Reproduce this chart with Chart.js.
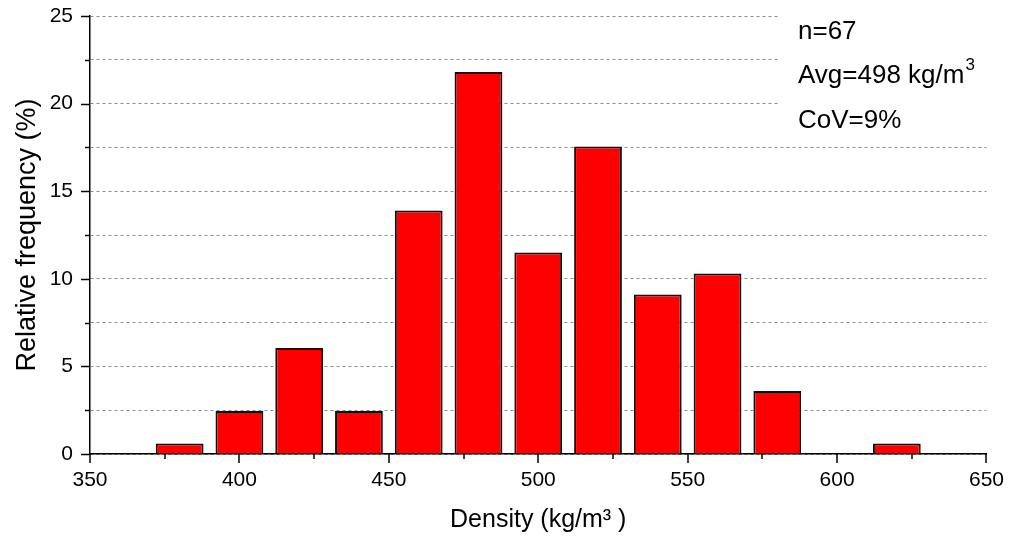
<!DOCTYPE html>
<html>
<head>
<meta charset="utf-8">
<script src="https://cdn.jsdelivr.net/npm/chart.js@4/dist/chart.umd.min.js"></script>
<style>
  body { margin: 0; background: #fff; }
  #wrap { width: 1010px; height: 537px; }
</style>
</head>
<body>
<div id="wrap"><canvas id="hist"></canvas></div>
<script>
// bin centres (kg/m3) and relative frequency (%)
const binCentres = [380, 400, 420, 440, 460, 480, 500, 520, 540, 560, 580, 600, 620];
const relFreq = [0.6, 2.45, 6.05, 2.45, 13.9, 21.8, 11.5, 17.55, 9.1, 10.3, 3.6, 0, 0.6];
const statLines = ['n=67', 'Avg=498 kg/m', 'CoV=9%'];

const FONT = '"Liberation Sans", Arial, sans-serif';

// outward ticks (major + minor) and the stats box
const extras = {
  id: 'extras',
  afterDatasetsDraw(chart) {
    const c = chart.ctx;
    const x = chart.scales.x, y = chart.scales.y;
    c.save();
    c.strokeStyle = '#000';
    c.lineWidth = 1.5;
    c.beginPath();
    y.ticks.forEach(t => {
      const py = Math.round(y.getPixelForValue(t.value)) + 0.5;
      const len = t.value % 5 === 0 ? 9 : 5;
      c.moveTo(y.right - len, py);
      c.lineTo(y.right, py);
    });
    x.ticks.forEach(t => {
      const px = Math.round(x.getPixelForValue(t.value));
      const len = t.value % 50 === 0 ? 9 : 5;
      c.moveTo(px, x.top);
      c.lineTo(px, x.top + len);
    });
    c.stroke();

    // stats text box
    c.fillStyle = '#fff';
    c.fillRect(780, 8, 210, 132);
    c.fillStyle = '#000';
    c.font = '26px ' + FONT;
    c.textBaseline = 'middle';
    c.textAlign = 'left';
    const ys = [32, 76, 121];
    statLines.forEach((s, i) => c.fillText(s, 798, ys[i]));
    const w = c.measureText(statLines[1]).width;
    c.font = '17px ' + FONT;
    c.fillText('3', 798 + w + 1, ys[1] - 11);
    c.restore();
  }
};

new Chart(document.getElementById('hist'), {
  type: 'bar',
  data: {
    datasets: [{
      data: binCentres.map((v, i) => ({ x: v, y: relFreq[i] })),
      backgroundColor: '#ff0000',
      borderColor: '#111',
      borderWidth: 2,
      barPercentage: 0.8,
      categoryPercentage: 1.0
    }]
  },
  options: {
    responsive: true,
    maintainAspectRatio: false,
    animation: false,
    layout: { padding: { top: 16, right: 23, left: 0, bottom: 0 } },
    plugins: { legend: { display: false }, tooltip: { enabled: false } },
    scales: {
      x: {
        type: 'linear',
        min: 350,
        max: 650,
        offset: false,
        grid: { display: false, offset: false },
        border: { display: true, color: '#000', width: 1.5 },
        ticks: {
          stepSize: 25,
          autoSkip: false,
          maxRotation: 0,
          padding: 6,
          color: '#000',
          font: { family: FONT, size: 21 },
          callback: v => (v % 50 === 0 ? v : '')
        },
        title: {
          display: true,
          text: 'Density (kg/m³ )',
          color: '#000',
          font: { family: FONT, size: 25, lineHeight: 1.2 },
          padding: { top: 0, bottom: 2 }
        },
        afterFit: s => { s.height = 83; }
      },
      y: {
        min: 0,
        max: 25,
        grid: {
          color: '#8c8c8c',
          lineWidth: 1,
          drawTicks: true,
          tickLength: 17,
          tickColor: 'rgba(0,0,0,0)'
        },
        border: { display: true, color: '#000', width: 1.5, dash: [3, 3] },
        ticks: {
          stepSize: 2.5,
          autoSkip: false,
          padding: 0,
          color: '#000',
          font: { family: FONT, size: 21 },
          callback: v => (v % 5 === 0 ? v : '')
        },
        title: {
          display: true,
          text: 'Relative frequency (%)',
          color: '#000',
          font: { family: FONT, size: 27, lineHeight: 1.2 },
          padding: { top: 11, bottom: 0 }
        },
        afterFit: s => { s.width = 90; }
      }
    }
  },
  plugins: [extras]
});
</script>
</body>
</html>
